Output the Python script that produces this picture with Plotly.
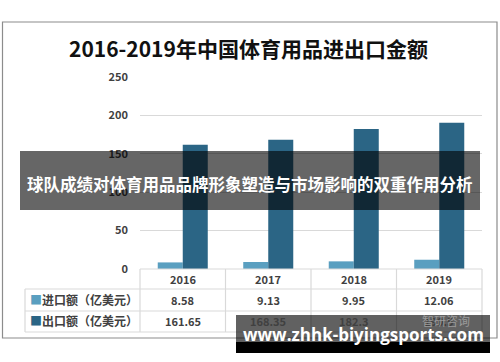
import plotly.graph_objects as go

years = ["2016", "2017", "2018", "2019"]
imports = [8.58, 9.13, 9.95, 12.06]
exports = [161.65, 168.35, 182.3, 190.5]
series_names = ["进口额（亿美元）", "出口额（亿美元）"]
series_colors = ["#5a9fc0", "#2b6585"]
title_text = "2016-2019年中国体育用品进出口金额"
banner_text = "球队成绩对体育用品品牌形象塑造与市场影响的双重作用分析"
watermark_text = "www.zhhk-biyingsports.com"
y_ticks = [0, 50, 100, 150, 200, 250]

W, H = 500, 362
def px(x): return x / W
def py(y): return 1 - y / H

FONT = "Noto Sans CJK SC"

fig = go.Figure()
fig.add_trace(go.Bar(x=years, y=imports, name=series_names[0],
                     marker=dict(color=series_colors[0], line=dict(width=0))))
fig.add_trace(go.Bar(x=years, y=exports, name=series_names[1],
                     marker=dict(color=series_colors[1], line=dict(width=0))))

X0, X1 = 140, 482
Y0, Y1 = 269, 77
fig.update_layout(
    width=W, height=H, margin=dict(l=0, r=0, t=0, b=0, pad=0), autosize=False,
    paper_bgcolor="white", plot_bgcolor="white",
    showlegend=False, barmode="group", bargap=0.415, bargroupgap=0,
    font=dict(family=FONT, color="#404040"),
    xaxis=dict(type="category", domain=[px(X0), px(X1)], range=[-0.5, len(years) - 0.5],
               showticklabels=False, showgrid=False,
               zeroline=False, showline=False, ticks="", automargin=False),
    yaxis=dict(domain=[py(Y0), py(Y1)], range=[0, 250], tickvals=y_ticks,
               showgrid=True, gridcolor="#d9d9d9", gridwidth=1, zeroline=False,
               showline=False, ticks="", ticklabelstandoff=11, automargin=False,
               tickfont=dict(size=11, color="#404040", family=FONT, weight="bold")),
)

shapes = []
shapes.append(dict(type="rect", xref="paper", yref="paper", x0=px(2.5), x1=px(497),
                   y0=py(338), y1=py(22), line=dict(color="#8c8c8c", width=1.2), layer="below"))
tc = "#d9d9d9"
col_edges = [140, 225.5, 311, 396.5, 482]
for xe in col_edges:
    shapes.append(dict(type="line", xref="paper", yref="paper", x0=px(xe), x1=px(xe),
                       y0=py(269), y1=py(332), line=dict(color=tc, width=1.2)))
shapes.append(dict(type="line", xref="paper", yref="paper", x0=px(25), x1=px(25),
                   y0=py(289), y1=py(332), line=dict(color=tc, width=1.2)))
shapes.append(dict(type="line", xref="paper", yref="paper", x0=px(140), x1=px(482),
                   y0=py(269), y1=py(269), line=dict(color=tc, width=1.2)))
for yy in [289, 311, 332]:
    shapes.append(dict(type="line", xref="paper", yref="paper", x0=px(25), x1=px(482),
                       y0=py(yy), y1=py(yy), line=dict(color=tc, width=1.2)))
shapes.append(dict(type="rect", xref="paper", yref="paper", x0=px(20), x1=px(480),
                   y0=py(210), y1=py(151), fillcolor="rgba(0,0,0,0.6)", line=dict(width=0), layer="above"))
shapes.append(dict(type="rect", xref="paper", yref="paper", x0=px(236), x1=px(490),
                   y0=py(342), y1=py(315), fillcolor="rgba(0,0,0,0.62)", line=dict(width=0), layer="above"))
shapes.append(dict(type="rect", xref="paper", yref="paper", x0=px(236), x1=px(490),
                   y0=py(353), y1=py(342), fillcolor="black", line=dict(width=0), layer="above"))
fig.update_layout(shapes=shapes)

def A(text, x, y, size, color, xref="paper", xanchor="center", family=FONT, weight="bold"):
    return dict(text=text, x=x, y=y, xref=xref, yref="paper", xanchor=xanchor, yanchor="middle",
                showarrow=False, font=dict(size=size, color=color, family=family, weight=weight))

ann = []
ann.append(A(title_text, px(248), py(48.5), 21, "#111111"))
rows_y = [278.5, 299.5, 320.5]
for i, yr in enumerate(years):
    ann.append(A(yr, i, py(rows_y[0]), 11, "#404040", xref="x"))
    ann.append(A(f"{imports[i]:g}", i, py(rows_y[1]), 11, "#404040", xref="x"))
    ann.append(A(f"{exports[i]:g}", i, py(rows_y[2]), 11, "#404040", xref="x"))
for k in range(2):
    ann.append(A(f"<span style='color:{series_colors[k]}'>■</span>{series_names[k]}",
                 px(28), py(rows_y[k + 1]), 12, "#404040", xanchor="left"))
ann.append(A("智研咨询", px(472), py(320), 12, "#9a9a9a", xanchor="right", weight="normal"))
ann.append(A(banner_text, px(250), py(184), 16.5, "white"))
ann.append(A(watermark_text, px(363), py(334), 17, "white", family="Open Sans"))
fig.update_layout(annotations=ann)

fig.write_html("out.html", post_script="document.body.style.margin='0';",
               config={"displayModeBar": False})
